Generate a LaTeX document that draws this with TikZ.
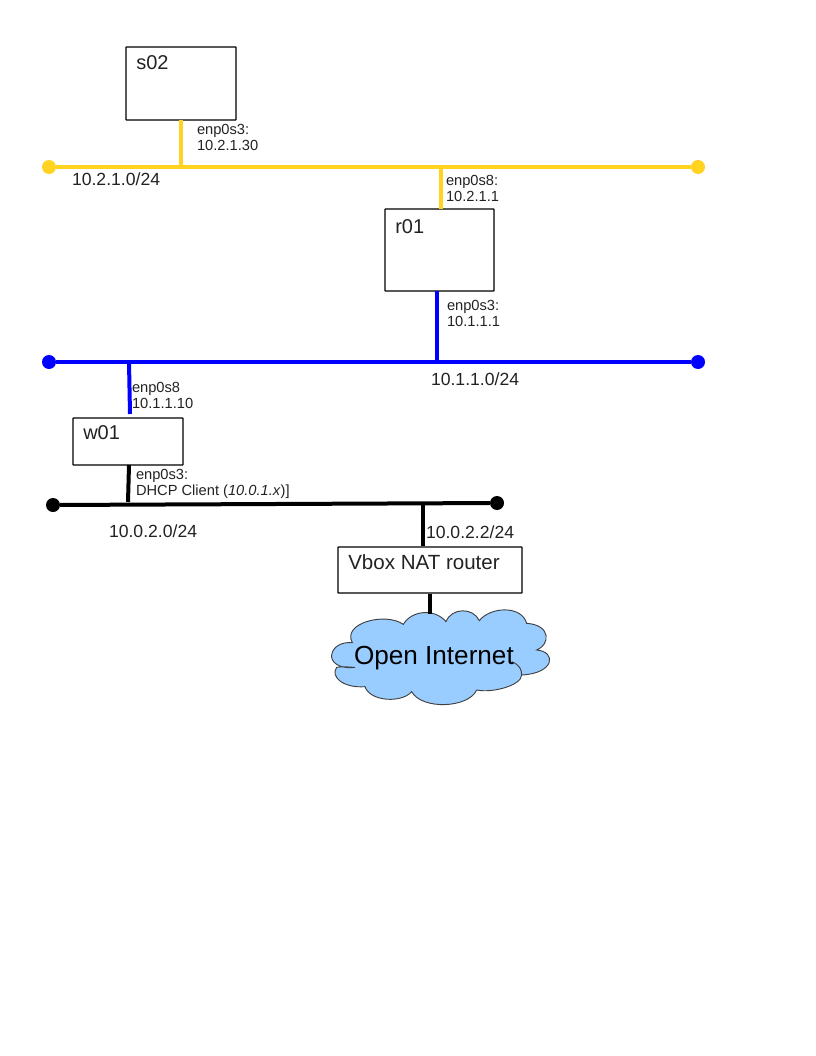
\documentclass[tikz,border=0pt]{standalone}
\usepackage{fontspec}
\setmainfont{Liberation Sans}
\definecolor{busyellow}{HTML}{FFD320}
\definecolor{busblue}{HTML}{0000FF}
\definecolor{cloudblue}{HTML}{99CCFF}
\definecolor{inktext}{HTML}{222222}
\newcommand{\boxtext}[4]{\parbox[c][\dimexpr #2pt*3/4\relax][t]{\dimexpr #1pt*3/4\relax}{\rule{0pt}{\dimexpr #3pt*3/4\relax}\hspace*{7.7pt}#4}}
\tikzset{
  hostbox/.style={draw=black,line width=.8pt,rounded corners=.3pt,fill=white,inner sep=0pt,outer sep=0pt,anchor=north west,text=inktext,font=\fontsize{15}{18}\selectfont},
  netlabel/.style={inner sep=0pt,outer sep=0pt,anchor=base west,text=inktext,font=\fontsize{13.2}{16}\selectfont},
  iflabel/.style={inner sep=0pt,outer sep=0pt,anchor=north west,align=left,text=inktext,font=\fontsize{11}{12}\selectfont},
  busdot/.style={circle,inner sep=0pt,outer sep=0pt,minimum size=10.5pt,fill=#1},
  wire/.style={line width=3pt,draw=#1},
  cloudshape/.style={draw=black!75,line width=.7pt,fill=cloudblue},
}
\begin{document}
\begin{tikzpicture}[x=.75pt,y=-.75pt]
\useasboundingbox (0,0) rectangle (816,1056);
% cloud
\begin{scope}[xshift=240pt,yshift=-442.5pt,x=.25pt,y=-.25pt]
\draw[cloudshape]
 (105,232) .. controls (55,238) and (32,215) .. (35,195)
 .. controls (38,170) and (65,155) .. (97,158)
 .. controls (65,100) and (195,65) .. (250,103)
 .. controls (275,60) and (345,55) .. (378,95)
 .. controls (395,52) and (460,52) .. (478,92)
 .. controls (510,50) and (605,45) .. (620,100)
 .. controls (695,105) and (690,165) .. (650,180)
 .. controls (710,185) and (705,250) .. (605,255)
 .. controls (605,285) and (520,310) .. (470,300)
 .. controls (445,355) and (305,360) .. (275,305)
 .. controls (245,340) and (150,335) .. (135,290)
 .. controls (70,295) and (30,260) .. (50,232)
 .. controls (65,228) and (90,232) .. (105,232)
 -- cycle;
\draw[cloudshape,fill=none] (575,215) .. controls (600,225) and (605,240) .. (605,255);
\end{scope}
\node[inner sep=0pt,outer sep=0pt,anchor=base west,text=black,font=\fontsize{19.6}{24}\selectfont] (internet) at (354,664) {Open Internet};
\coordinate (cloudtop) at (430,614);
% hosts
\node[hostbox] (s02) at (126,47) {\boxtext{110}{73}{23}{s02}};
\node[hostbox] (r01) at (385,209) {\boxtext{109}{82}{24}{r01}};
\node[hostbox] (w01) at (73,418) {\boxtext{110}{47}{21}{w01}};
\node[hostbox,font=\fontsize{15.4}{18}\selectfont] (nat) at (338,547) {\boxtext{184}{46}{22}{Vbox NAT router}};
% bus ends
\node[busdot=busyellow] (y1) at (49,167) {};
\node[busdot=busyellow] (y2) at (698,167) {};
\node[busdot=busblue] (b1) at (49,362) {};
\node[busdot=busblue] (b2) at (698,362) {};
\node[busdot=black] (k1) at (53,505) {};
\node[busdot=black] (k2) at (497,503) {};
% tap points
\coordinate (ys) at (181,167);
\coordinate (sb) at (181,120);
\coordinate (yr) at (441,167);
\coordinate (rt) at (441,209);
\coordinate (rb) at (437,291);
\coordinate (br) at (437,362);
\coordinate (bw) at (129,362);
\coordinate (wt) at (130,414);
\coordinate (wb) at (129,465);
\coordinate (kw) at (128,502);
\coordinate (kn) at (423,504);
\coordinate (nt) at (423,546);
\coordinate (nb) at (430,594);
% wires
\draw[wire=busyellow] (y1) -- (y2);
\draw[wire=busyellow] (sb) -- (ys);
\draw[wire=busyellow] (yr) -- (rt);
\draw[wire=busblue] (b1) -- (b2);
\draw[wire=busblue] (rb) -- (br);
\draw[wire=busblue] (bw) -- (wt);
\draw[wire=black] (k1) -- (k2);
\draw[wire=black] (wb) -- (kw);
\draw[wire=black] (kn) -- (nt);
\draw[wire=black] (nb) -- (cloudtop);
% labels
\node[netlabel] (n1) at (72,185) {10.2.1.0/24};
\node[netlabel] (n2) at (431,385) {10.1.1.0/24};
\node[netlabel] (n3) at (109,537) {10.0.2.0/24};
\node[netlabel] (n4) at (426,538) {10.0.2.2/24};
\node[iflabel] (i1) at (197,124.5) {enp0s3:\\10.2.1.30};
\node[iflabel] (i2) at (446,175.5) {enp0s8:\\10.2.1.1};
\node[iflabel] (i3) at (447,300.5) {enp0s3:\\10.1.1.1};
\node[iflabel] (i4) at (132,382.5) {enp0s8\\10.1.1.10};
\node[iflabel] (i5) at (136,469.5) {enp0s3:\\DHCP Client (\textit{10.0.1.x})]};
\end{tikzpicture}
\end{document}
